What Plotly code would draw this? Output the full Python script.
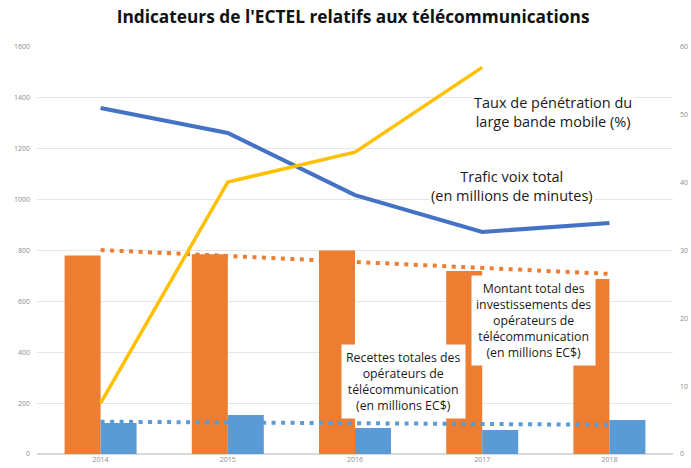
import plotly.graph_objects as go

years = ["2014", "2015", "2016", "2017", "2018"]
recettes = [780, 785, 800, 719, 688]
investissements = [122, 153, 102, 94, 134]
trafic_voix = [1360, 1262, 1018, 873, 908]
penetration = [7.5, 40.1, 44.5, 57.0, None]
tendance_recettes = [802, 778, 755, 731, 708]
tendance_invest = [127, 124, 121, 118, 115]

left_ticks = [0, 200, 400, 600, 800, 1000, 1200, 1400, 1600]
right_ticks = [0, 10, 20, 30, 40, 50, 60]

ORANGE = "#ED7D31"
LIGHT_BLUE = "#5B9BD5"
DARK_BLUE = "#4472C4"
YELLOW = "#FFC000"
TXT = "Open Sans"


def main():
    fig = go.Figure()

    fig.add_trace(go.Bar(x=years, y=recettes, marker_color=ORANGE,
                         marker_line_width=0, name="Recettes"))
    fig.add_trace(go.Bar(x=years, y=investissements, marker_color=LIGHT_BLUE,
                         marker_line_width=0, name="Investissements"))

    # trend lines (dotted)
    fig.add_trace(go.Scatter(x=years, y=tendance_recettes, mode="lines",
                             line=dict(color=ORANGE, width=4, dash="4px,5.5px")))
    fig.add_trace(go.Scatter(x=years, y=tendance_invest, mode="lines",
                             line=dict(color=LIGHT_BLUE, width=4, dash="4px,5.5px")))

    fig.add_trace(go.Scatter(x=years, y=trafic_voix, mode="lines",
                             line=dict(color=DARK_BLUE, width=4)))
    fig.add_trace(go.Scatter(x=years, y=penetration, mode="lines", yaxis="y2",
                             line=dict(color=YELLOW, width=3.5)))

    notes = [
        ("Taux de pénétration du<br>large bande mobile (%)", 0.811, 0.840, 14.5, False),
        ("Trafic voix total<br>(en millions de minutes)", 0.747, 0.658, 14.5, False),
        ("Montant total des<br>investissements des<br>opérateurs de<br>télécommunication<br>(en millions EC$)",
         0.780, 0.329, 12.3, True),
        ("Recettes totales des<br>opérateurs de<br>télécommunication<br>(en millions EC$)",
         0.576, 0.179, 12.3, True),
    ]
    for text, x, y, size, boxed in notes:
        fig.add_annotation(text=text, xref="paper", yref="paper", x=x, y=y,
                           xanchor="center", yanchor="middle",
                           showarrow=False, bgcolor="white",
                           borderpad=4 if boxed else 1,
                           font=dict(family=TXT, size=size, color="#1a1a1a"))

    tick_font = dict(family=TXT, size=7, color="#8c8c8c")
    fig.update_layout(
        width=691, height=468,
        margin=dict(l=37, r=18, t=47, b=14, autoexpand=False),
        paper_bgcolor="white", plot_bgcolor="white",
        showlegend=False,
        barmode="group", bargap=0.434, bargroupgap=0,
        title=dict(text="<b>Indicateurs de l'ECTEL relatifs aux télécommunications</b>",
                   x=0.511, xref="container", xanchor="center",
                   y=0.963, yanchor="middle",
                   font=dict(family=TXT, size=17.3, color="#111111")),
        xaxis=dict(type="category", showgrid=False, showline=False, ticks="",
                   automargin=False, tickfont=tick_font),
        yaxis=dict(range=[0, 1600], tickvals=left_ticks, showgrid=True,
                   gridcolor="#e6e6e6", gridwidth=1, zeroline=True,
                   zerolinecolor="#d9d9d9", showline=False, ticks="",
                   automargin=False, ticklabelstandoff=6, tickfont=tick_font),
        yaxis2=dict(range=[0, 60], tickvals=right_ticks, ticksuffix="%",
                    overlaying="y", side="right", showgrid=False, zeroline=False,
                    showline=False, ticks="", automargin=False,
                    ticklabelstandoff=6, tickfont=tick_font),
    )

    # the page body has a default 8px margin; drop it so the figure fills the window
    fig.write_html("out.html", config={"displayModeBar": False},
                   post_script="document.body.style.margin='0';")


main()
